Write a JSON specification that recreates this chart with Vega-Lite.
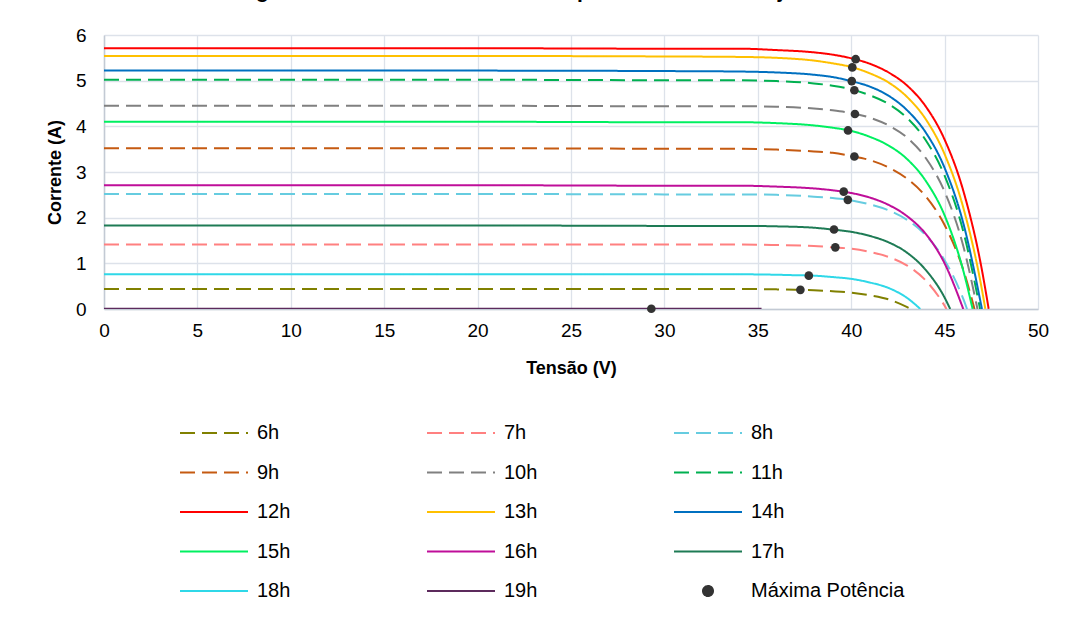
{
  "$schema": "https://vega.github.io/schema/vega-lite/v6.json",
  "autosize": "none",
  "width": 934,
  "height": 274,
  "padding": {"left": 104, "top": 35, "right": 34, "bottom": 308},
  "background": "white",
  "title": {"text": "Figura 12 – Curvas I-V do módulo por hora do mês de janeiro", "anchor": "middle", "frame": "group", "dx": -29, "dy": 7, "baseline": "alphabetic", "offset": 14, "fontSize": 21, "fontWeight": "bold", "font": "Liberation Sans", "color": "#000000"},
  "datasets": {
    "curvas": [
      {"s":"6h","v":0,"i":0.44},{"s":"6h","v":10,"i":0.44},{"s":"6h","v":20,"i":0.44},{"s":"6h","v":30,"i":0.44},{"s":"6h","v":34,"i":0.44},{"s":"6h","v":36,"i":0.43},{"s":"6h","v":37,"i":0.42},{"s":"6h","v":38,"i":0.41},{"s":"6h","v":39,"i":0.39},{"s":"6h","v":40,"i":0.36},{"s":"6h","v":41,"i":0.30},{"s":"6h","v":42,"i":0.21},{"s":"6h","v":43,"i":0.04},{"s":"6h","v":43.2,"i":0},
      {"s":"7h","v":0,"i":1.41},{"s":"7h","v":10,"i":1.41},{"s":"7h","v":20,"i":1.41},{"s":"7h","v":30,"i":1.41},{"s":"7h","v":34,"i":1.41},{"s":"7h","v":36,"i":1.40},{"s":"7h","v":38,"i":1.38},{"s":"7h","v":39,"i":1.35},{"s":"7h","v":40,"i":1.32},{"s":"7h","v":41,"i":1.25},{"s":"7h","v":42,"i":1.14},{"s":"7h","v":43,"i":0.95},{"s":"7h","v":44,"i":0.62},{"s":"7h","v":45,"i":0.07},{"s":"7h","v":45.1,"i":0},
      {"s":"8h","v":0,"i":2.52},{"s":"8h","v":10,"i":2.52},{"s":"8h","v":20,"i":2.52},{"s":"8h","v":30,"i":2.51},{"s":"8h","v":34,"i":2.51},{"s":"8h","v":36,"i":2.50},{"s":"8h","v":38,"i":2.46},{"s":"8h","v":39,"i":2.43},{"s":"8h","v":40,"i":2.38},{"s":"8h","v":41,"i":2.29},{"s":"8h","v":42,"i":2.16},{"s":"8h","v":43,"i":1.95},{"s":"8h","v":44,"i":1.61},{"s":"8h","v":45,"i":1.07},{"s":"8h","v":46,"i":0.22},{"s":"8h","v":46.2,"i":0},
      {"s":"9h","v":0,"i":3.52},{"s":"9h","v":10,"i":3.52},{"s":"9h","v":20,"i":3.52},{"s":"9h","v":30,"i":3.51},{"s":"9h","v":34,"i":3.51},{"s":"9h","v":36,"i":3.49},{"s":"9h","v":38,"i":3.45},{"s":"9h","v":39,"i":3.42},{"s":"9h","v":40,"i":3.35},{"s":"9h","v":41,"i":3.26},{"s":"9h","v":42,"i":3.10},{"s":"9h","v":43,"i":2.85},{"s":"9h","v":44,"i":2.46},{"s":"9h","v":45,"i":1.84},{"s":"9h","v":46,"i":0.86},{"s":"9h","v":46.6,"i":0},
      {"s":"10h","v":0,"i":4.45},{"s":"10h","v":10,"i":4.45},{"s":"10h","v":20,"i":4.45},{"s":"10h","v":30,"i":4.44},{"s":"10h","v":34,"i":4.44},{"s":"10h","v":36,"i":4.43},{"s":"10h","v":38,"i":4.39},{"s":"10h","v":39,"i":4.35},{"s":"10h","v":40,"i":4.29},{"s":"10h","v":41,"i":4.19},{"s":"10h","v":42,"i":4.02},{"s":"10h","v":43,"i":3.75},{"s":"10h","v":44,"i":3.30},{"s":"10h","v":45,"i":2.57},{"s":"10h","v":46,"i":1.38},{"s":"10h","v":46.76,"i":0},
      {"s":"11h","v":0,"i":5.02},{"s":"11h","v":10,"i":5.02},{"s":"11h","v":20,"i":5.02},{"s":"11h","v":30,"i":5.01},{"s":"11h","v":34,"i":5.01},{"s":"11h","v":36,"i":4.99},{"s":"11h","v":38,"i":4.94},{"s":"11h","v":39,"i":4.89},{"s":"11h","v":40,"i":4.81},{"s":"11h","v":41,"i":4.68},{"s":"11h","v":42,"i":4.49},{"s":"11h","v":43,"i":4.18},{"s":"11h","v":44,"i":3.69},{"s":"11h","v":45,"i":2.92},{"s":"11h","v":46,"i":1.70},{"s":"11h","v":46.9,"i":0},
      {"s":"12h","v":0,"i":5.71},{"s":"12h","v":10,"i":5.71},{"s":"12h","v":20,"i":5.71},{"s":"12h","v":30,"i":5.70},{"s":"12h","v":34,"i":5.70},{"s":"12h","v":36,"i":5.67},{"s":"12h","v":38,"i":5.62},{"s":"12h","v":39,"i":5.57},{"s":"12h","v":40,"i":5.49},{"s":"12h","v":41,"i":5.37},{"s":"12h","v":42,"i":5.18},{"s":"12h","v":43,"i":4.89},{"s":"12h","v":44,"i":4.43},{"s":"12h","v":45,"i":3.71},{"s":"12h","v":46,"i":2.59},{"s":"12h","v":47,"i":0.85},{"s":"12h","v":47.36,"i":0},
      {"s":"13h","v":0,"i":5.54},{"s":"13h","v":10,"i":5.54},{"s":"13h","v":20,"i":5.54},{"s":"13h","v":30,"i":5.53},{"s":"13h","v":34,"i":5.52},{"s":"13h","v":36,"i":5.50},{"s":"13h","v":38,"i":5.44},{"s":"13h","v":39,"i":5.38},{"s":"13h","v":40,"i":5.30},{"s":"13h","v":41,"i":5.16},{"s":"13h","v":42,"i":4.96},{"s":"13h","v":43,"i":4.64},{"s":"13h","v":44,"i":4.15},{"s":"13h","v":45,"i":3.39},{"s":"13h","v":46,"i":2.22},{"s":"13h","v":47,"i":0.42},{"s":"13h","v":47.18,"i":0},
      {"s":"14h","v":0,"i":5.22},{"s":"14h","v":10,"i":5.22},{"s":"14h","v":20,"i":5.22},{"s":"14h","v":30,"i":5.21},{"s":"14h","v":34,"i":5.20},{"s":"14h","v":36,"i":5.18},{"s":"14h","v":38,"i":5.13},{"s":"14h","v":39,"i":5.08},{"s":"14h","v":40,"i":4.99},{"s":"14h","v":41,"i":4.87},{"s":"14h","v":42,"i":4.67},{"s":"14h","v":43,"i":4.35},{"s":"14h","v":44,"i":3.86},{"s":"14h","v":45,"i":3.09},{"s":"14h","v":46,"i":1.88},{"s":"14h","v":47,"i":0},
      {"s":"15h","v":0,"i":4.10},{"s":"15h","v":10,"i":4.10},{"s":"15h","v":20,"i":4.10},{"s":"15h","v":30,"i":4.09},{"s":"15h","v":34,"i":4.09},{"s":"15h","v":36,"i":4.07},{"s":"15h","v":38,"i":4.02},{"s":"15h","v":39,"i":3.97},{"s":"15h","v":40,"i":3.90},{"s":"15h","v":41,"i":3.77},{"s":"15h","v":42,"i":3.58},{"s":"15h","v":43,"i":3.28},{"s":"15h","v":44,"i":2.80},{"s":"15h","v":45,"i":2.05},{"s":"15h","v":46,"i":0.84},{"s":"15h","v":46.5,"i":0},
      {"s":"16h","v":0,"i":2.71},{"s":"16h","v":10,"i":2.71},{"s":"16h","v":20,"i":2.71},{"s":"16h","v":30,"i":2.70},{"s":"16h","v":34,"i":2.70},{"s":"16h","v":36,"i":2.68},{"s":"16h","v":38,"i":2.64},{"s":"16h","v":39,"i":2.60},{"s":"16h","v":40,"i":2.54},{"s":"16h","v":41,"i":2.44},{"s":"16h","v":42,"i":2.28},{"s":"16h","v":43,"i":2.03},{"s":"16h","v":44,"i":1.64},{"s":"16h","v":45,"i":1.00},{"s":"16h","v":46,"i":0},
      {"s":"17h","v":0,"i":1.83},{"s":"17h","v":10,"i":1.83},{"s":"17h","v":20,"i":1.83},{"s":"17h","v":30,"i":1.82},{"s":"17h","v":34,"i":1.82},{"s":"17h","v":36,"i":1.81},{"s":"17h","v":38,"i":1.78},{"s":"17h","v":39,"i":1.74},{"s":"17h","v":40,"i":1.69},{"s":"17h","v":41,"i":1.60},{"s":"17h","v":42,"i":1.46},{"s":"17h","v":43,"i":1.23},{"s":"17h","v":44,"i":0.85},{"s":"17h","v":45,"i":0.25},{"s":"17h","v":45.3,"i":0},
      {"s":"18h","v":0,"i":0.76},{"s":"18h","v":10,"i":0.76},{"s":"18h","v":20,"i":0.76},{"s":"18h","v":30,"i":0.76},{"s":"18h","v":34,"i":0.76},{"s":"18h","v":36,"i":0.75},{"s":"18h","v":37,"i":0.74},{"s":"18h","v":38,"i":0.73},{"s":"18h","v":39,"i":0.70},{"s":"18h","v":40,"i":0.66},{"s":"18h","v":41,"i":0.58},{"s":"18h","v":42,"i":0.46},{"s":"18h","v":43,"i":0.24},{"s":"18h","v":43.7,"i":0},
      {"s":"19h","v":0,"i":0.006},{"s":"19h","v":10,"i":0.006},{"s":"19h","v":20,"i":0.006},{"s":"19h","v":30,"i":0.006},{"s":"19h","v":35.2,"i":0.004}
    ],
    "mpp": [
      {"s":"Máxima Potência","h":"6h","v":37.28,"i":0.42},
      {"s":"Máxima Potência","h":"7h","v":39.15,"i":1.35},
      {"s":"Máxima Potência","h":"8h","v":39.82,"i":2.39},
      {"s":"Máxima Potência","h":"9h","v":40.17,"i":3.34},
      {"s":"Máxima Potência","h":"10h","v":40.2,"i":4.27},
      {"s":"Máxima Potência","h":"11h","v":40.17,"i":4.79},
      {"s":"Máxima Potência","h":"12h","v":40.24,"i":5.47},
      {"s":"Máxima Potência","h":"13h","v":40.06,"i":5.29},
      {"s":"Máxima Potência","h":"14h","v":40.03,"i":4.99},
      {"s":"Máxima Potência","h":"15h","v":39.83,"i":3.91},
      {"s":"Máxima Potência","h":"16h","v":39.6,"i":2.57},
      {"s":"Máxima Potência","h":"17h","v":39.08,"i":1.74},
      {"s":"Máxima Potência","h":"18h","v":37.73,"i":0.73},
      {"s":"Máxima Potência","h":"19h","v":29.3,"i":0.006}
    ]
  },
  "layer": [
    {
      "data": {"name": "curvas"},
      "mark": {"type": "line", "interpolate": "monotone", "strokeWidth": 2, "clip": true},
      "encoding": {
        "x": {"field": "v", "type": "quantitative", "scale": {"domain": [0, 50], "nice": false}, "axis": {"title": "Tensão (V)", "values": [0,5,10,15,20,25,30,35,40,45,50]}},
        "y": {"field": "i", "type": "quantitative", "scale": {"domain": [0, 6], "nice": false}, "axis": {"title": "Corrente (A)", "values": [0,1,2,3,4,5,6]}},
        "color": {"field": "s", "type": "nominal", "sort": null,
          "scale": {"domain": ["6h","7h","8h","9h","10h","11h","12h","13h","14h","15h","16h","17h","18h","19h","Máxima Potência"],
                    "range": ["#808000","#FF8080","#66CCE0","#C55A11","#808080","#00B050","#FF0000","#FFC000","#0070C0","#00F060","#BF0E99","#1E7B55","#2FD8E8","#5C2A5C","#333333"]},
          "legend": {"title": null, "orient": "none", "legendX": 75, "legendY": 387, "direction": "horizontal", "columns": 3, "gridAlign": "all", "columnPadding": 12, "rowPadding": 18.5, "symbolType": "stroke", "symbolSize": 400, "symbolStrokeWidth": 2, "labelFontSize": 20, "labelOffset": 56, "labelColor": "#000000", "labelFont": "Liberation Sans", "padding": 0,
            "encode": {"symbols": {"update": {
              "shape": {"signal": "datum.value === 'Máxima Potência' ? 'M1.9,0A0.5,0.5,0,1,0,2.9,0A0.5,0.5,0,1,0,1.9,0Z' : 'M-1,0H5.8'"},
              "fill": {"signal": "datum.value === 'Máxima Potência' ? '#333333' : 'transparent'"}}}}}},
        "strokeDash": {"field": "s", "type": "nominal", "sort": null,
          "scale": {"domain": ["6h","7h","8h","9h","10h","11h","12h","13h","14h","15h","16h","17h","18h","19h","Máxima Potência"],
                    "range": [[15,7],[15,7],[15,7],[15,7],[15,7],[15,7],[1,0],[1,0],[1,0],[1,0],[1,0],[1,0],[1,0],[1,0],[1,0]]},
          "legend": {"title": null, "orient": "none", "legendX": 75, "legendY": 387, "direction": "horizontal", "columns": 3, "gridAlign": "all", "columnPadding": 12, "rowPadding": 18.5, "symbolType": "stroke", "symbolSize": 400, "symbolStrokeWidth": 2, "labelFontSize": 20, "labelOffset": 56, "labelColor": "#000000", "labelFont": "Liberation Sans", "padding": 0,
            "encode": {"symbols": {"update": {
              "shape": {"signal": "datum.value === 'Máxima Potência' ? 'M1.9,0A0.5,0.5,0,1,0,2.9,0A0.5,0.5,0,1,0,1.9,0Z' : 'M-1,0H5.8'"},
              "fill": {"signal": "datum.value === 'Máxima Potência' ? '#333333' : 'transparent'"}}}}}}
      }
    },
    {
      "data": {"name": "mpp"},
      "mark": {"type": "point", "filled": true, "size": 75, "opacity": 1},
      "encoding": {
        "x": {"field": "v", "type": "quantitative"},
        "y": {"field": "i", "type": "quantitative"},
        "color": {"field": "s", "type": "nominal", "sort": null,
          "legend": {"title": null, "orient": "none", "legendX": 75, "legendY": 387, "direction": "horizontal", "columns": 3, "gridAlign": "all", "columnPadding": 12, "rowPadding": 18.5, "symbolType": "stroke", "symbolSize": 400, "symbolStrokeWidth": 2, "labelFontSize": 20, "labelOffset": 56, "labelColor": "#000000", "labelFont": "Liberation Sans", "padding": 0,
            "encode": {"symbols": {"update": {
              "shape": {"signal": "datum.value === 'Máxima Potência' ? 'M1.9,0A0.5,0.5,0,1,0,2.9,0A0.5,0.5,0,1,0,1.9,0Z' : 'M-1,0H5.8'"},
              "fill": {"signal": "datum.value === 'Máxima Potência' ? '#333333' : 'transparent'"}}}}}}
      }
    }
  ],
  "config": {
    "font": "Liberation Sans",
    "view": {"stroke": null},
    "axis": {"labelFont": "Liberation Sans", "labelFontSize": 19, "labelColor": "#000000", "labelFlush": false, "titleFont": "Liberation Sans", "titleFontSize": 18, "titleFontWeight": "bold", "titleColor": "#000000", "gridColor": "#DDE2EA", "gridWidth": 1.3, "domainColor": "#C3CAD4", "domainWidth": 1.5, "ticks": false},
    "axisX": {"labelPadding": 12, "titlePadding": 19},
    "axisY": {"labelPadding": 18, "titlePadding": 11}
  }
}
